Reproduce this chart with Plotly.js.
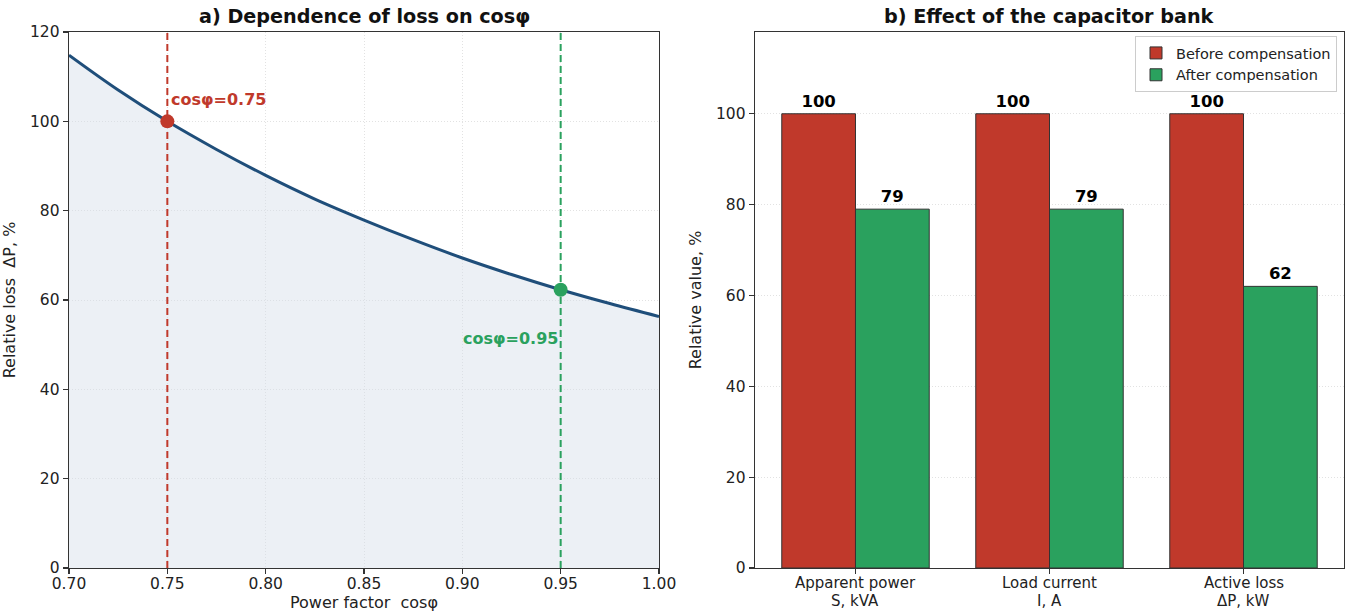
<!DOCTYPE html>
<html>
<head>
<meta charset="utf-8">
<script src="https://cdn.plot.ly/plotly-3.0.1.min.js"></script>
<style>html,body{margin:0;padding:0;background:#fff;}#chart{width:1346px;height:613px;}</style>
</head>
<body>
<div id="chart"></div>
<script>
// Panel a) curve
const cosPhi = [0.700, 0.725, 0.750, 0.775, 0.800, 0.825, 0.850, 0.875, 0.900, 0.925, 0.950, 0.975, 1.000];
const relLoss = [114.8, 107.0, 100.0, 93.7, 87.9, 82.6, 77.9, 73.5, 69.4, 65.7, 62.3, 59.2, 56.3];
const markX = [0.75, 0.95];
const markY = [100, 62.3];
const markLabels = ['cosφ=0.75', 'cosφ=0.95'];

// Panel b) bars
const categories = ['Apparent power<br>S, kVA', 'Load current<br>I, A', 'Active loss<br>ΔP, kW'];
const before = [100, 100, 100];
const after = [79, 79, 62];

const RED = '#c0392b', GREEN = '#2aa15e', BLUE = '#1f4e7a';
const FONT = 'DejaVu Sans, sans-serif';
const catIdx = categories.map((_, i) => i);
const bw = 0.38;

const traces = [
  {x: cosPhi, y: relLoss, type: 'scatter', mode: 'lines', fill: 'tozeroy',
   fillcolor: 'rgba(212,222,232,0.45)', line: {color: BLUE, width: 3, shape: 'spline'},
   xaxis: 'x', yaxis: 'y', showlegend: false, hoverinfo: 'skip'},
  {x: [markX[0], markX[0]], y: [0, 120], type: 'scatter', mode: 'lines',
   line: {color: RED, width: 2, dash: '7px,4px'}, xaxis: 'x', yaxis: 'y', showlegend: false, hoverinfo: 'skip'},
  {x: [markX[1], markX[1]], y: [0, 120], type: 'scatter', mode: 'lines',
   line: {color: GREEN, width: 2, dash: '7px,4px'}, xaxis: 'x', yaxis: 'y', showlegend: false, hoverinfo: 'skip'},
  {x: markX, y: markY, type: 'scatter', mode: 'markers',
   marker: {color: [RED, GREEN], size: 14}, xaxis: 'x', yaxis: 'y', showlegend: false, cliponaxis: false},
  {x: catIdx.map(i => i - bw / 2), y: before, type: 'bar', width: bw, name: 'Before compensation',
   marker: {color: RED, line: {color: '#333333', width: 1}},
   text: before.map(String), textposition: 'outside', cliponaxis: false,
   textfont: {family: FONT, size: 16.5, color: '#000', weight: 'bold'},
   xaxis: 'x2', yaxis: 'y2'},
  {x: catIdx.map(i => i + bw / 2), y: after, type: 'bar', width: bw, name: 'After compensation',
   marker: {color: GREEN, line: {color: '#333333', width: 1}},
   text: after.map(String), textposition: 'outside', cliponaxis: false,
   textfont: {family: FONT, size: 16.5, color: '#000', weight: 'bold'},
   xaxis: 'x2', yaxis: 'y2'}
];

const W = 1346, H = 613;
const dom = (a, b) => [a / W, b / W];
const vdom = [(H - 568) / H, (H - 32) / H];
const py = p => (H - p) / H;

const axBase = {
  showline: true, linecolor: '#333333', linewidth: 1.3, mirror: true,
  ticks: 'outside', ticklen: 5, tickwidth: 1.2, tickcolor: '#333333',
  tickfont: {family: FONT, size: 15.5, color: '#222'},
  gridcolor: '#e2e2e2', griddash: '1px,2px', gridwidth: 1, zeroline: false, automargin: false
};
const titleFont = {family: FONT, size: 16, color: '#222'};

const catAnnotations = [];
categories.forEach((c, i) => {
  c.split('<br>').forEach((line, k) => {
    catAnnotations.push({xref: 'x2', yref: 'paper', x: i, y: py(583 + 18 * k), xanchor: 'center', yanchor: 'middle',
      text: line, showarrow: false, font: {family: FONT, size: 15, color: '#222'}});
  });
});

const layout = {
  width: W, height: H,
  margin: {l: 0, r: 0, t: 0, b: 0},
  paper_bgcolor: '#ffffff', plot_bgcolor: '#ffffff',
  font: {family: FONT, size: 14, color: '#222'},
  bargap: 0, barmode: 'overlay',
  xaxis: Object.assign({}, axBase, {domain: dom(69, 659), range: [0.7, 1.0], dtick: 0.05, tick0: 0.7,
    tickformat: '.2f', showgrid: true, anchor: 'y', ticklabelstandoff: -4,
    title: {text: 'Power factor\u00a0 cosφ', font: titleFont, standoff: 4}}),
  yaxis: Object.assign({}, axBase, {domain: vdom, range: [0, 120], dtick: 20, showgrid: true, anchor: 'x',
    title: {text: 'Relative loss\u00a0 ΔP, %', font: titleFont, standoff: 10}}),
  xaxis2: Object.assign({}, axBase, {domain: dom(755, 1344), range: [-0.518, 2.518], anchor: 'y2',
    tickmode: 'array', tickvals: catIdx, showticklabels: false, showgrid: false}),
  yaxis2: Object.assign({}, axBase, {domain: vdom, range: [0, 118], dtick: 20, showgrid: true, anchor: 'x2',
    title: {text: 'Relative value, %', font: titleFont, standoff: 10}}),
  legend: {x: 1337 / W, xanchor: 'right', y: py(36), yanchor: 'top',
    bgcolor: 'rgba(255,255,255,0.9)', bordercolor: '#cccccc', borderwidth: 1,
    font: {family: FONT, size: 14.5, color: '#222'}, tracegroupgap: 2},
  annotations: [
    {xref: 'paper', yref: 'paper', x: (69 + 659) / 2 / W, y: py(16), xanchor: 'center', yanchor: 'middle',
     text: '<b>a) Dependence of loss on cosφ</b>', showarrow: false, font: {family: FONT, size: 19.2, color: '#111'}},
    {xref: 'paper', yref: 'paper', x: (755 + 1344) / 2 / W, y: py(16), xanchor: 'center', yanchor: 'middle',
     text: '<b>b) Effect of the capacitor bank</b>', showarrow: false, font: {family: FONT, size: 19.2, color: '#111'}},
    {xref: 'x', yref: 'y', x: markX[0], y: 105, xanchor: 'left', yanchor: 'middle', xshift: 2,
     text: '<b>' + markLabels[0] + '</b>', showarrow: false, font: {family: FONT, size: 16, color: RED}},
    {xref: 'x', yref: 'y', x: markX[1], y: 51.3, xanchor: 'right', yanchor: 'middle', xshift: -1,
     text: '<b>' + markLabels[1] + '</b>', showarrow: false, font: {family: FONT, size: 16, color: GREEN}}
  ].concat(catAnnotations)
};

Plotly.newPlot('chart', traces, layout, {staticPlot: true, displayModeBar: false});
</script>
</body>
</html>
